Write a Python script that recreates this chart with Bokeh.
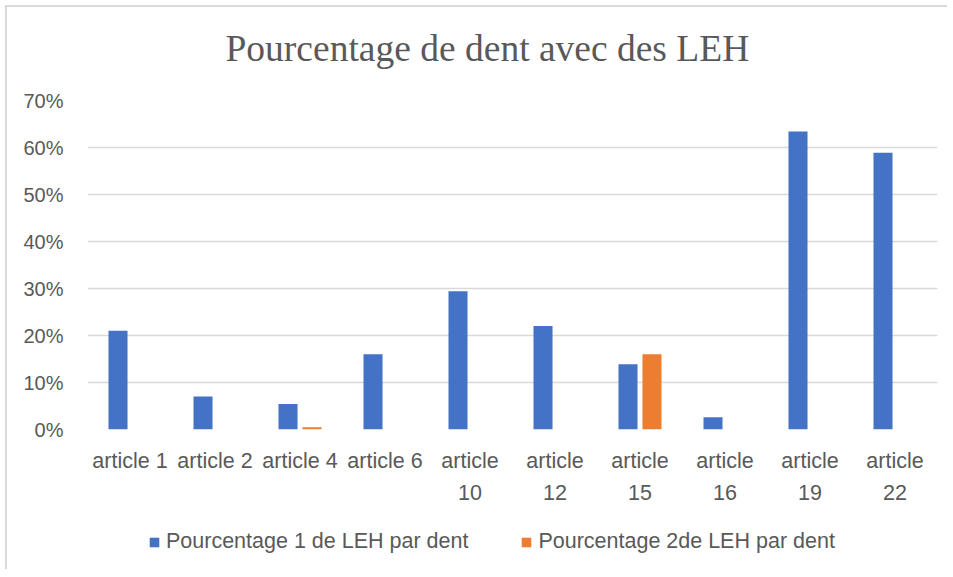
from bokeh.plotting import figure
from bokeh.models import (ColumnDataSource, Legend, LegendItem, NumeralTickFormatter, FixedTicker,
                          Range1d, LinearAxis, Label)
from bokeh.transform import dodge
from bokeh.layouts import column
from bokeh.embed import file_html
from bokeh.resources import INLINE

categories = ["article 1", "article 2", "article 4", "article 6", "article 10",
              "article 12", "article 15", "article 16", "article 19", "article 22"]
label_line1 = ["article 1", "article 2", "article 4", "article 6", "article",
               "article", "article", "article", "article", "article"]
label_line2 = [" ", " ", " ", " ", "10", "12", "15", "16", "19", "22"]
serie1 = [0.21, 0.07, 0.054, 0.16, 0.294, 0.22, 0.139, 0.026, 0.634, 0.589]
serie2 = [0.0, 0.0, 0.005, 0.0, 0.0, 0.0, 0.16, 0.0, 0.0, 0.0]
y_ticks = [0.0, 0.1, 0.2, 0.3, 0.4, 0.5, 0.6, 0.7]
series_names = ["Pourcentage 1 de LEH par dent", "Pourcentage 2de LEH par dent"]
title_text = "Pourcentage de dent avec des LEH"

BLUE = "#4472C4"
ORANGE = "#ED7D31"
TXT = "#595959"
GRID = "#D9D9D9"
SANS = "Liberation Sans"
W = 940

idx = list(range(len(categories)))
src = ColumnDataSource(dict(x=idx, cat=categories, s1=serie1, s2=serie2))

# ---- title strip
pt = figure(width=W, height=73, x_range=Range1d(0, 1), y_range=Range1d(0, 1),
            output_backend="svg", toolbar_location=None,
            min_border=0, min_border_left=0, min_border_right=0, min_border_top=0, min_border_bottom=0)
pt.axis.visible = False
pt.grid.visible = False
pt.outline_line_color = None
pt.add_layout(Label(x=138, y=32, x_units="screen", y_units="screen", text=title_text,
                    text_font="Liberation Serif", text_font_size="37.5px", text_color=TXT,
                    text_align="left", text_baseline="middle"))

# ---- main chart
p = figure(x_range=Range1d(-0.5, len(categories) - 0.5), y_range=Range1d(0, 0.7),
           width=W, height=440, output_backend="svg", toolbar_location=None,
           min_border_left=80, min_border_right=10, min_border_top=20, min_border_bottom=91)
p.outline_line_color = None

r1 = p.vbar(x=dodge("x", -0.141), top="s1", width=0.224, source=src,
            fill_color=BLUE, line_color=None)
r2 = p.vbar(x=dodge("x", 0.141), top="s2", width=0.224, source=src,
            fill_color=ORANGE, line_color=None)

p.xgrid.grid_line_color = None
p.ygrid.grid_line_color = GRID
p.ygrid.grid_line_width = 1.5
p.yaxis.ticker = FixedTicker(ticks=y_ticks)
p.yaxis.formatter = NumeralTickFormatter(format="0%")

ax2 = LinearAxis()
p.add_layout(ax2, "below")

for ax in (p.xaxis[0], p.yaxis[0], ax2):
    ax.axis_line_color = None
    ax.major_tick_line_color = None
    ax.minor_tick_line_color = None
    ax.major_label_text_font = SANS
    ax.major_label_text_font_size = "21.5px"
    ax.major_label_text_color = TXT
p.yaxis.major_label_text_font_size = "20px"
p.yaxis.major_label_standoff = 18

p.xaxis[0].ticker = FixedTicker(ticks=idx, minor_ticks=[])
p.xaxis[0].major_label_standoff = 13
p.xaxis[0].major_label_overrides = {i: t for i, t in zip(idx, label_line1)}
ax2.ticker = FixedTicker(ticks=idx, minor_ticks=[])
ax2.major_label_standoff = -1
ax2.major_label_overrides = {i: t for i, t in zip(idx, label_line2)}

# ---- legend strip (swatch renderers share the data but lie outside this strip's range)
pl = figure(width=W, height=49, x_range=Range1d(100, 101), y_range=Range1d(100, 101),
            output_backend="svg", toolbar_location=None,
            min_border=0, min_border_left=0, min_border_right=0, min_border_top=0, min_border_bottom=0)
pl.axis.visible = False
pl.grid.visible = False
pl.outline_line_color = None
d1 = pl.vbar(x="x", top="s1", width=0.224, source=src, fill_color=BLUE, line_color=None)
d2 = pl.vbar(x="x", top="s2", width=0.224, source=src, fill_color=ORANGE, line_color=None)
legend = Legend(items=[LegendItem(label=series_names[0], renderers=[d1]),
                       LegendItem(label=series_names[1], renderers=[d2])],
                orientation="horizontal", location=(61, 15),
                glyph_width=12, glyph_height=12, label_standoff=6, spacing=52,
                padding=0, margin=0, border_line_color=None, background_fill_alpha=0,
                label_text_font=SANS, label_text_font_size="21.5px", label_text_color=TXT)
pl.add_layout(legend, "center")

layout = column(pt, p, pl, spacing=0, margin=(5, 0, 0, 5),
                styles={"border-left": "2px solid #D9D9D9", "border-top": "2px solid #D9D9D9"})
open("out.html", "w").write(file_html(layout, INLINE))
